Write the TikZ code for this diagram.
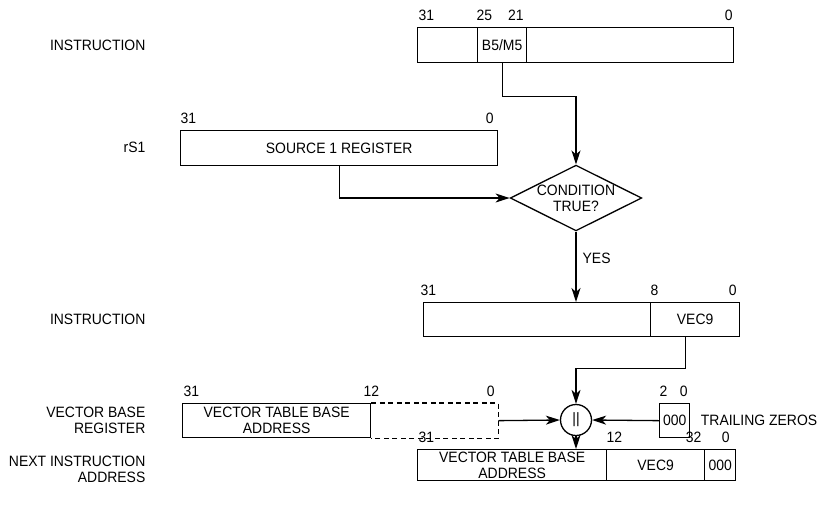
\documentclass[tikz,border=0pt]{standalone}
\usepackage{fontspec}
\setmainfont[FakeStretch=0.93]{Liberation Sans}
\usetikzlibrary{arrows.meta, positioning, shapes.geometric}
\newcommand\regfont{\fontsize{15}{16}\selectfont}
\tikzset{
  fld/.style    = {rectangle, draw, line width=1.3pt, inner sep=0pt,
                   anchor=north west, align=center},
  ghost/.style  = {rectangle, inner sep=0pt, anchor=north west},
  bit/.style    = {inner sep=0pt},
  rowlbl/.style = {anchor=east, align=right, inner sep=0pt},
  decide/.style = {diamond, draw, line width=1.3pt, aspect=2,
                   inner sep=0pt, align=center},
  cat/.style    = {circle, draw, line width=1.3pt, inner sep=0pt,
                   minimum size=31pt},
  >={Stealth[length=14pt, width=9pt, inset=4pt]}
}

\begin{document}
\begin{tikzpicture}[x=1pt, y=-1pt, line width=1.3pt, font=\regfont]
\useasboundingbox (0,0) rectangle (821,507);

% ── Row y-coordinates (top → bottom, in px) ──────────────────────────────
\def\yA{27}    % instruction with B5/M5
\def\yB{130}   % source 1 register
\def\yC{302}   % instruction with VEC9
\def\yD{403}   % vector base register
\def\yE{449}   % next instruction address
\def\xL{146}   % right edge of the row labels

% ── Row labels ─────────────────────────────────────────────────────────────
\node[rowlbl] (lins1) at (\xL, 45)  {INSTRUCTION};
\node[rowlbl] (lrs1)  at (\xL, 147) {rS1};
\node[rowlbl] (lins2) at (\xL, 319) {INSTRUCTION};
\node[rowlbl] (lvbr)  at (\xL, 420) {VECTOR BASE\\REGISTER};
\node[rowlbl] (lnia)  at (\xL, 469) {NEXT INSTRUCTION\\ADDRESS};

% ── Instruction (B5/M5 field) ──────────────────────────────────────────────
\node[fld, minimum width=60pt,  minimum height=35pt] (i1a) at (417, \yA) {};
\node[fld, minimum width=49pt,  minimum height=35pt] (i1b) at (477, \yA) {B5/M5};
\node[fld, minimum width=207pt, minimum height=35pt] (i1c) at (526, \yA) {};
\node[bit, above right=6pt and 1pt of i1a.north west]  (b1a) {31};
\node[bit, above right=6pt and -1pt of i1b.north west] (b1b) {25};
\node[bit, above left=6pt and 3pt of i1b.north east]   (b1c) {21};
\node[bit, above left=6pt and 1pt of i1c.north east]   (b1d) {0};

% ── Source 1 register ──────────────────────────────────────────────────────
\node[fld, minimum width=317pt, minimum height=35pt] (rs1) at (180, \yB)
  {SOURCE 1 REGISTER};
\node[bit, above right=6pt and 0pt of rs1.north west] (b2a) {31};
\node[bit, above left=6pt and 4pt of rs1.north east]  (b2b) {0};

% ── Condition test ─────────────────────────────────────────────────────────
\node[decide] (cond) at (576, 198) {CONDITION\\TRUE?};

% ── Instruction (VEC9 field) ───────────────────────────────────────────────
\node[fld, minimum width=227pt, minimum height=34pt] (i2a) at (423, \yC) {};
\node[fld, minimum width=89pt,  minimum height=34pt] (i2b) at (650, \yC) {VEC9};
\node[bit, above right=6pt and -3pt of i2a.north west] (b3a) {31};
\node[bit, above right=6pt and 0pt of i2b.north west]  (b3b) {8};
\node[bit, above left=6pt and 3pt of i2b.north east]   (b3c) {0};

% ── Vector base register ───────────────────────────────────────────────────
\node[fld, minimum width=188pt, minimum height=34pt] (vbr) at (182, \yD)
  {VECTOR TABLE BASE\\ADDRESS};
\node[ghost, minimum width=127pt, minimum height=34pt] (vbrx) at (370, \yD) {};
\draw[dash pattern=on 5pt off 3.5pt]
  (vbr.north east) -- (vbrx.north east) -- (vbrx.south east) -- (vbr.south east);
\node[bit, above right=6pt and 1pt of vbr.north west] (b4a) {31};
\node[bit, above=6pt of vbr.north east]               (b4b) {12};
\node[bit, above left=6pt and 3pt of vbrx.north east] (b4c) {0};

% ── Concatenation and trailing zeros ───────────────────────────────────────
\node[cat] (cat) at (576, 420) {||};
\node[fld, minimum width=30pt, minimum height=34pt] (tz) at (659, \yD) {000};
\node[bit, above right=6pt and 0pt of tz.north west] (b5a) {2};
\node[bit, above left=6pt and 2pt of tz.north east]  (b5b) {0};
\node[right=10pt of tz, inner sep=0pt] (ltz) {TRAILING ZEROS};

% ── Next instruction address ───────────────────────────────────────────────
\node[fld, minimum width=189pt, minimum height=31pt] (nia) at (417, \yE)
  {VECTOR TABLE BASE\\ADDRESS};
\node[fld, minimum width=98pt, minimum height=31pt] (nib) at (606, \yE) {VEC9};
\node[fld, minimum width=31pt, minimum height=31pt] (nic) at (704, \yE) {000};
\node[bit, above right=6pt and 1pt of nia.north west] (b6a) {31};
\node[bit, above right=6pt and 0pt of nib.north west] (b6b) {12};
\node[bit, above left=6pt and 2pt of nic.north west]  (b6c) {32};
\node[bit, above left=6pt and 6pt of nic.north east]  (b6d) {0};

% ── Connectors ─────────────────────────────────────────────────────────────
\draw[->] (i1b.south) -- ++(0,33) -| (cond.north);
\draw[->] (rs1.south) |- (cond.west);
\draw[->] (cond.south) -- node[pos=0.38, right=6pt, inner sep=0pt] (yes) {YES}
  (cond.south |- i2a.north);
\draw[->] ([xshift=-10pt]i2b.south) -- ++(0,31) -| (cat.north);
\draw[->] (vbrx.east) -- (cat.west);
\draw[->] (tz.west) -- (cat.east);
\draw[->] (cat.south) -- (cat.south |- nia.north);

\end{tikzpicture}
\end{document}
